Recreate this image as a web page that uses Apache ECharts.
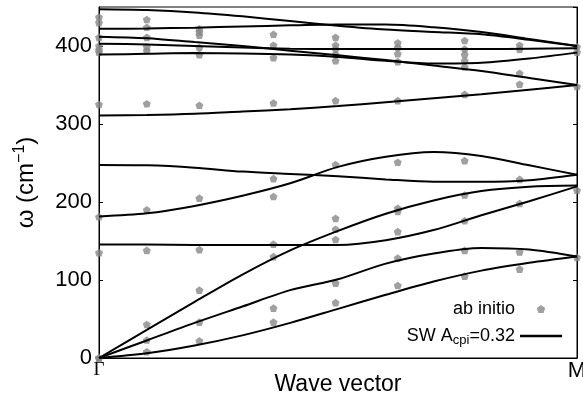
<!DOCTYPE html>
<html><head><meta charset="utf-8">
<script src="https://cdn.jsdelivr.net/npm/echarts@6/dist/echarts.min.js"></script>
<style>html,body{margin:0;padding:0;background:#fff}#c{width:583px;height:398px}</style>
</head><body><div id="c"></div>
<script>
// Wave-vector positions (0 = Γ, 1 = M)
const qLine = [0, 0.1, 0.2, 0.3, 0.4, 0.5, 0.6, 0.7, 0.8, 0.9, 1.0];
// SW model branches (cm^-1)
const acoustic1 = [0, 36, 72, 107, 138, 163, 185, 202, 214, 219.5, 221];
const acoustic2 = [0, 22.5, 45, 66, 87, 101, 121, 134, 141, 139, 130];
const acoustic3 = [0, 6, 16, 29, 45, 63, 81, 98, 112, 122, 130];
const optic145 = [145.5, 145.5, 145, 145, 145, 145, 151, 164, 183, 201, 220];
const optic182 = [181.5, 185.5, 195, 208, 224, 245, 258, 264, 259, 247, 235];
const optic247 = [247.5, 247, 244, 239, 236, 233, 229, 226, 226, 228, 235];
const optic311 = [311, 311.5, 313, 316, 319, 323, 328, 333, 338, 344, 350];
const high447 = [447, 446, 443, 438, 432, 426, 421, 418, 415, 408, 400];
const high422 = [422, 422.5, 423.5, 425, 426.5, 427.5, 427.5, 424, 418, 409, 400];
const high412 = [412, 410, 405, 400, 394, 388, 382, 375, 368, 359, 350];
const high403 = [403, 402, 400, 398, 396.5, 396, 396, 396, 396, 396.5, 397];
const high389 = [389, 390, 391, 390.5, 389, 386, 381, 377.5, 378.5, 384, 391.5];

// ab initio points: q positions and the frequencies found at each q
const qPoints = [0, 0.10, 0.21, 0.365, 0.495, 0.625, 0.765, 0.88, 1.0];
const abQ0 = [437, 430, 411, 400, 395, 392, 325, 181, 135, 0, 0, 0];
const abQ1 = [434, 424, 411, 399, 394, 326, 190, 138, 43, 23, 8];
const abQ2 = [422, 418, 414, 398, 389, 324, 205, 139, 87, 46, 22];
const abQ3 = [415, 401, 385, 327, 230, 207, 146, 130, 64, 46];
const abQ4 = [411, 401, 396, 389, 381, 330, 248, 179, 165, 152, 96, 71];
const abQ5 = [404, 398, 390, 380, 330, 251, 192, 188, 162, 128, 93];
const abQ6 = [407, 396, 389, 381, 373, 338, 253, 209, 176, 138, 105];
const abQ7 = [401, 396, 365, 351, 229, 198, 136, 114];
const abQ8 = [399, 392, 348, 215, 129];

const yTicks = [0, 100, 200, 300, 400];

const abCols = [abQ0, abQ1, abQ2, abQ3, abQ4, abQ5, abQ6, abQ7, abQ8];
const scatterData = [];
abCols.forEach((col, i) => col.forEach(v => scatterData.push([qPoints[i], v])));

const branches = [acoustic1, acoustic2, acoustic3, optic145, optic182, optic247, optic311,
                  high447, high422, high412, high403, high389];

const FONT = 'Liberation Sans';
const pent = 'path://M0,-1L0.951,-0.309L0.588,0.809L-0.588,0.809L-0.951,-0.309Z';
const lineIcon = 'path://M0,0H40V2.5H0Z';

const series = [{
  name: 'ab initio', type: 'scatter', data: scatterData,
  symbol: pent, symbolSize: 8, symbolKeepAspect: true,
  itemStyle: { color: '#888888' }, z: 2
}];
branches.forEach(b => series.push({
  name: 'SW', type: 'line', data: qLine.map((q, i) => [q, b[i]]),
  showSymbol: false, symbol: 'none', smooth: 0.3,
  lineStyle: { color: '#000', width: 2 }, itemStyle: { color: '#000' }, z: 3
}));

const chart = echarts.init(document.getElementById('c'), null, { renderer: 'canvas' });
chart.setOption({
  animation: false,
  grid: { left: 99, right: 6, top: 7, bottom: 40, containLabel: false, outerBoundsMode: 'none',
          show: true, borderColor: '#000', borderWidth: 1 },
  xAxis: [{
    type: 'value', min: 0, max: 1, interval: 1,
    axisLine: { show: true, lineStyle: { color: '#000', width: 1 } },
    axisTick: { show: false }, splitLine: { show: false },
    axisLabel: {
      margin: 0,
      formatter: v => v === 0 ? '{g|Γ}' : '{m|M}',
      rich: {
        g: { fontFamily: 'Liberation Serif', fontSize: 19, color: '#000', padding: [3, 0, 0, 0] },
        m: { fontFamily: FONT, fontSize: 22, color: '#000', padding: [2, 0, 0, 0] }
      }
    },
    name: 'Wave vector', nameLocation: 'middle', nameGap: 15, nameMoveOverlap: false,
    nameTextStyle: { fontFamily: FONT, fontSize: 23, color: '#000' }
  }],
  yAxis: [{
    type: 'value', min: 0, max: 450, interval: 100,
    axisLine: { show: true, lineStyle: { color: '#000', width: 1 } },
    axisTick: { show: true, inside: true, length: 4, lineStyle: { color: '#000' } },
    splitLine: { show: false },
    axisLabel: {
      showMaxLabel: false, margin: 7, fontFamily: FONT, fontSize: 22, color: '#000',
      formatter: v => yTicks.indexOf(v) >= 0 ? String(v) : ''
    },
    name: '{a|ω (cm}{s|−1}{a|)}', nameLocation: 'middle', nameGap: 59, nameRotate: 90,
    nameMoveOverlap: false,
    nameTextStyle: {
      rich: {
        a: { fontFamily: FONT, fontSize: 24, color: '#000' },
        s: { fontFamily: FONT, fontSize: 16, color: '#000', padding: [0, 0, 12, 0] }
      }
    }
  }, {
    type: 'value', position: 'right', min: 0, max: 450, interval: 100,
    axisLine: { show: true, lineStyle: { color: '#000', width: 1 } },
    axisTick: { show: true, inside: true, length: 4, lineStyle: { color: '#000' } },
    axisLabel: { show: false }, splitLine: { show: false }
  }],
  legend: {
    orient: 'vertical', align: 'right', right: 21, top: 300, padding: 0,
    itemWidth: 42, itemHeight: 8, itemGap: 9, symbolKeepAspect: true,
    data: [{ name: 'ab initio', icon: pent, itemStyle: { color: '#888888' } },
           { name: 'SW', icon: lineIcon, itemStyle: { color: '#000' } }],
    formatter: n => n === 'SW' ? '{n|SW A}{s|cpi}{n|=0.32}' : '{n|' + n + '}',
    textStyle: {
      rich: {
        n: { fontFamily: FONT, fontSize: 18, color: '#000' },
        s: { fontFamily: FONT, fontSize: 13, color: '#000', padding: [8, 0, 0, 0] }
      }
    }
  },
  series: series
});
</script>
</body></html>
